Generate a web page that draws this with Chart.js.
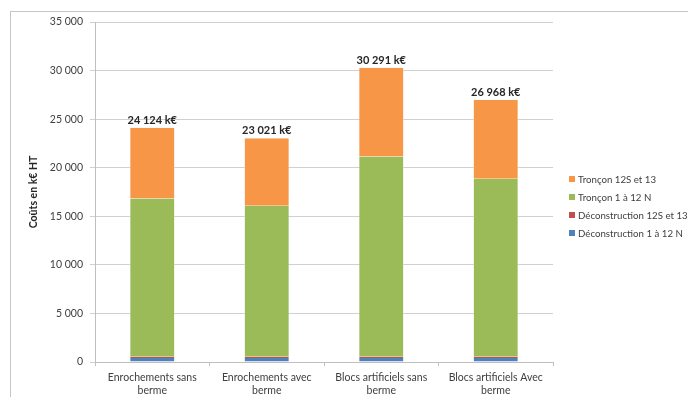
<!DOCTYPE html>
<html>
<head>
<meta charset="utf-8">
<script src="https://cdn.jsdelivr.net/npm/chart.js@4/dist/chart.umd.min.js"></script>
<style>
  html, body { margin: 0; padding: 0; background: #fff; overflow: hidden; }
  #wrap { position: relative; width: 688px; height: 397px; }
  #frame { position: absolute; left: 10px; top: 11px; width: 700px; height: 400px; border: 1px solid #c6c6c6; box-sizing: border-box; }
  canvas { position: absolute; left: 0; top: 0; }
</style>
</head>
<body>
<div id="wrap">
  <div id="frame"></div>
  <canvas id="c" width="688" height="397"></canvas>
</div>
<script>
// Data
const categories = [
    ['Enrochements sans', 'berme'],
    ['Enrochements avec', 'berme'],
    ['Blocs artificiels sans', 'berme'],
    ['Blocs artificiels Avec', 'berme']
];
const deconstruction1a12N = [400, 400, 400, 400];
const deconstruction12Set13 = [150, 150, 150, 150];
const troncon1a12N = [16283, 15523, 20596, 18304];
const troncon12Set13 = [7291, 6948, 9145, 8114];
const totals = [24124, 23021, 30291, 26968];
const yTicks = [0, 5000, 10000, 15000, 20000, 25000, 30000, 35000];

const FONT = 'Lato, "Liberation Sans", sans-serif';
const fmt = v => String(v).replace(/\B(?=(\d{3})+(?!\d))/g, ' ');

const series = [
    { label: 'Déconstruction 1 à 12 N', data: deconstruction1a12N, color: '#4F81BD' },
    { label: 'Déconstruction 12S et 13', data: deconstruction12Set13, color: '#C0504D' },
    { label: 'Tronçon 1 à 12 N', data: troncon1a12N, color: '#9BBB59' },
    { label: 'Tronçon 12S et 13', data: troncon12Set13, color: '#F79646' }
];

// totals above each stack
const totalsPlugin = {
    id: 'totals',
    afterDatasetsDraw(chart) {
        const ctx = chart.ctx;
        const meta = chart.getDatasetMeta(series.length - 1);
        ctx.save();
        ctx.font = 'bold 11px ' + FONT;
        ctx.fillStyle = '#262626';
        ctx.textAlign = 'center';
        ctx.textBaseline = 'bottom';
        meta.data.forEach((bar, i) => {
            ctx.fillText(fmt(totals[i]) + ' k€', bar.x, bar.y - 2);
        });
        ctx.restore();
    }
};

// legend on the right + rotated axis title
const sidePlugin = {
    id: 'side',
    afterDraw(chart) {
        const ctx = chart.ctx;
        ctx.save();
        ctx.font = '9.7px ' + FONT;
        ctx.textBaseline = 'middle';
        ctx.textAlign = 'left';
        const ys = [179, 197, 215, 233];
        [...series].reverse().forEach((s, i) => {
            ctx.fillStyle = s.color;
            ctx.fillRect(569, ys[i] - 3, 6, 6);
            ctx.fillStyle = '#404040';
            ctx.fillText(s.label, 578, ys[i] + 0.5);
        });
        ctx.translate(34, 192);
        ctx.rotate(-Math.PI / 2);
        ctx.textAlign = 'center';
        ctx.font = 'bold 10.5px ' + FONT;
        ctx.fillStyle = '#262626';
        ctx.fillText('Coûts en k€ HT', 0, 0);
        ctx.restore();
    }
};

new Chart(document.getElementById('c'), {
    type: 'bar',
    data: {
        labels: categories,
        datasets: series.map(s => ({
            label: s.label,
            data: s.data,
            backgroundColor: s.color,
            borderColor: 'rgba(255,255,255,0.35)',
            borderWidth: { left: 1, right: 1, top: 0, bottom: 0 },
            barPercentage: 0.4,
            categoryPercentage: 1
        }))
    },
    options: {
        responsive: false,
        animation: false,
        layout: { padding: { left: 0, top: 22, right: 135, bottom: 0 } },
        plugins: { legend: { display: false }, tooltip: { enabled: false } },
        scales: {
            x: {
                stacked: true,
                grid: { drawOnChartArea: false, drawTicks: true, tickLength: 4, color: '#bfbfbf', offset: true },
                border: { color: '#bfbfbf' },
                ticks: { color: '#404040', font: { family: FONT, size: 10.5, lineHeight: 1.15 }, padding: 6, maxRotation: 0 },
                afterFit(scale) { scale.height = 35; }
            },
            y: {
                stacked: true,
                min: 0,
                max: 35000,
                afterBuildTicks(scale) { scale.ticks = yTicks.map(v => ({ value: v })); },
                grid: { color: '#d0d0d0', tickLength: 5 },
                border: { color: '#bfbfbf' },
                ticks: { color: '#404040', font: { family: FONT, size: 10.5 }, padding: 7, callback: v => fmt(v) },
                afterFit(scale) { scale.width = 95; }
            }
        }
    },
    plugins: [totalsPlugin, sidePlugin]
});
</script>
</body>
</html>
